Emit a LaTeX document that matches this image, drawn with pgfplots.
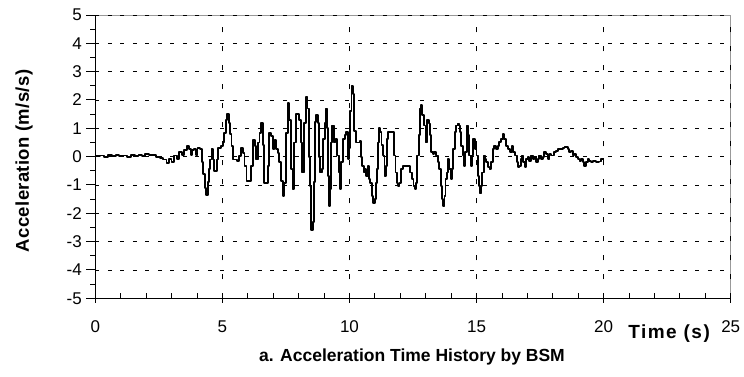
\documentclass[border=0pt]{standalone}
\usepackage{fontspec}
\setmainfont{Liberation Sans}
\usepackage{pgfplots}
\pgfplotsset{compat=1.18}
\usepackage{pgfplotstable}
\pgfplotstableread{
t a
0 0.02
0.2 0.04
0.35 0.0
0.5 0.05
0.65 0.01
0.8 0.05
0.95 0.02
1.1 0.04
1.25 0.0
1.4 0.05
1.55 0.02
1.7 0.06
1.85 0.03
1.95 0.1
2.1 0.05
2.25 0.07
2.4 0.0
2.55 -0.05
2.65 -0.1
2.8 -0.22
2.9 -0.08
3.0 -0.18
3.1 0.04
3.2 -0.08
3.3 0.15
3.4 0.05
3.5 0.22
3.6 0.38
3.7 0.28
3.75 0.05
3.82 0.25
3.9 0.28
3.95 0.05
4.02 0.3
4.12 0.26
4.2 -0.2
4.25 -0.6
4.3 -1.1
4.36 -1.35
4.42 -0.9
4.47 -0.45
4.52 -0.1
4.57 0.26
4.63 -0.1
4.68 -0.5
4.78 -0.1
4.84 0.32
4.93 0.38
5.02 0.5
5.08 0.85
5.14 1.3
5.19 1.5
5.25 1.2
5.3 0.8
5.36 0.38
5.42 -0.1
5.56 -0.15
5.67 0.02
5.74 0.32
5.8 0.14
5.87 -0.33
5.95 -0.86
6.12 -0.33
6.2 0.6
6.27 0.38
6.33 -0.1
6.4 0.5
6.46 0.85
6.52 1.2
6.59 0.4
6.65 -0.92
6.78 -0.33
6.85 0.85
6.92 0.73
6.98 0.26
7.05 0.6
7.11 0.26
7.18 0.14
7.24 -0.2
7.31 -0.86
7.37 -1.39
7.44 -0.92
7.5 0.85
7.57 1.9
7.63 1.3
7.69 -0.44
7.76 -1.15
7.83 0.5
7.9 1.5
8.02 1.3
8.09 0.5
8.13 -0.56
8.22 1.2
8.28 2.1
8.35 1.7
8.4 0.0
8.45 -1.04
8.5 -2.6
8.55 -2.3
8.59 -0.9
8.63 1.23
8.69 1.46
8.75 1.2
8.8 0.0
8.85 -0.56
8.91 -0.44
8.96 0.63
9.02 1.2
9.07 1.7
9.12 1.0
9.16 -0.68
9.2 -1.75
9.25 -1.15
9.29 0.5
9.33 1.1
9.39 0.5
9.45 0.63
9.51 0.04
9.58 -0.56
9.63 -1.15
9.68 -0.2
9.74 0.63
9.81 0.75
9.87 0.87
9.93 -0.08
9.98 0.3
10.03 1.6
10.08 2.5
10.14 2.2
10.19 0.9
10.24 0.5
10.4 0.56
10.44 0.0
10.5 -0.32
10.56 -0.56
10.61 -0.44
10.66 -0.68
10.72 -0.32
10.77 -0.8
10.82 -0.92
10.87 -1.4
10.92 -1.65
10.99 -1.5
11.03 -0.92
11.08 -0.44
11.12 0.5
11.16 1.0
11.21 0.87
11.26 0.4
11.31 0.04
11.38 -0.68
11.43 -0.32
11.48 0.63
11.52 0.87
11.74 0.04
11.81 -0.56
11.86 -0.92
11.9 -1.03
11.97 -0.92
12.03 -0.44
12.1 -0.32
12.39 -0.56
12.46 -0.8
12.52 -1.03
12.57 -1.15
12.62 -0.92
12.67 0.04
12.73 0.75
12.78 1.7
12.83 1.82
12.87 1.46
12.92 1.1
12.99 0.5
13.04 1.29
13.12 1.17
13.17 0.75
13.22 0.15
13.28 0.1
13.34 0.15
13.41 0.04
13.47 -0.2
13.54 -0.44
13.6 -1.03
13.64 -1.5
13.67 -1.75
13.74 -1.4
13.78 -0.8
13.83 -0.56
13.88 -0.08
13.93 -0.44
13.98 -0.8
14.04 -0.44
14.09 0.27
14.14 0.87
14.19 1.1
14.26 1.17
14.31 1.1
14.35 0.87
14.4 0.39
14.46 0.04
14.51 -0.32
14.56 0.15
14.61 1.1
14.67 0.75
14.72 0.04
14.78 -0.32
14.82 0.04
14.87 0.63
14.94 0.27
14.98 0.5
15.0 0.04
15.05 -0.68
15.1 -1.03
15.14 -1.3
15.19 -1.03
15.23 -0.56
15.28 0.04
15.32 -0.08
15.38 -0.2
15.44 -0.38
15.51 -0.44
15.58 -0.2
15.64 0.27
15.7 0.39
15.77 0.27
15.83 0.39
15.9 0.51
15.97 0.63
16.03 0.81
16.08 0.63
16.16 0.39
16.23 0.27
16.3 0.15
16.4 0.39
16.45 0.15
16.5 0.04
16.58 -0.2
16.63 -0.38
16.69 -0.32
16.74 -0.08
16.79 0.04
16.84 -0.2
16.9 -0.38
16.95 -0.08
17.02 -0.02
17.08 -0.14
17.14 0.04
17.21 -0.08
17.28 -0.02
17.34 -0.2
17.41 -0.08
17.47 0.04
17.54 -0.08
17.6 -0.02
17.67 0.15
17.73 0.1
17.8 -0.08
17.87 0.1
17.93 0.04
18.06 0.15
18.13 0.21
18.19 0.27
18.39 0.3
18.46 0.33
18.59 0.27
18.65 0.15
18.72 0.21
18.78 0.04
18.85 0.1
18.91 -0.02
18.98 -0.08
19.05 -0.14
19.11 -0.08
19.18 -0.2
19.24 -0.32
19.31 -0.2
19.37 -0.08
19.44 -0.14
19.5 -0.2
19.57 -0.14
19.7 -0.2
19.83 -0.17
19.9 -0.08
20.0 -0.08
}\acc
\begin{document}
\begin{tikzpicture}
\useasboundingbox (-95.3pt,-77.7pt) rectangle (648.7pt,298.3pt);
\draw[black!40, line width=1pt] (0pt,283.3pt) -- (635.4pt,283.3pt) -- (635.4pt,0pt);
\begin{axis}[
  at={(0pt,0pt)}, anchor=south west,
  scale only axis, width=635.4pt, height=283.3pt,
  xmin=0, xmax=25, ymin=-5, ymax=5,
  axis lines=left, axis line style={-, line width=1.2pt, black},
  xtick={0,5,10,15,20,25}, ytick={-5,-4,-3,-2,-1,0,1,2,3,4,5},
  xticklabels={0,5,10,15,20,25},
  yticklabels={-5,-4,-3,-2,-1,0,1,2,3,4,5},
  minor x tick num=4, minor y tick num=1,
  tick align=inside,
  major tick length=9pt, minor tick length=5pt,
  every major x tick/.append style={yshift=-4.5pt, line width=1pt, black},
  every minor x tick/.append style={line width=0.9pt, black},
  every major y tick/.append style={xshift=-9pt, line width=1pt, black},
  every minor y tick/.append style={xshift=-5pt, line width=0.9pt, black},
  grid=major,
  major grid style={black, line width=0.8pt},
  major y grid style={black, line width=0.8pt, dash pattern=on 4pt off 8.5pt},
  major x grid style={black, line width=0.8pt, dash pattern=on 5pt off 14pt},
  tick label style={font=\fontsize{17}{20}\selectfont},
  xticklabel style={anchor=base, inner sep=0pt, yshift=-33.9pt},
  yticklabel style={anchor=east, inner sep=0pt, xshift=-13.3pt},
  xlabel={Time (s)},
  xlabel style={at={(axis description cs:0.903,-0.126)}, anchor=center, font=\bfseries\fontsize{19}{22}\selectfont\addfontfeatures{LetterSpace=8}},
  ylabel={Acceleration (m/s/s)},
  ylabel style={at={(axis description cs:-0.1122,0.485)}, anchor=center, font=\bfseries\fontsize{18.5}{22}\selectfont\addfontfeatures{LetterSpace=2}},
]
\addplot[const plot, black, line width=1.9pt, line join=round] table[x=t,y=a]{\acc};
\end{axis}
\node[font=\bfseries\fontsize{17.5}{20}\selectfont] at (316.7pt,-58.7pt) {a. Acceleration Time History by BSM};
\end{tikzpicture}
\end{document}
